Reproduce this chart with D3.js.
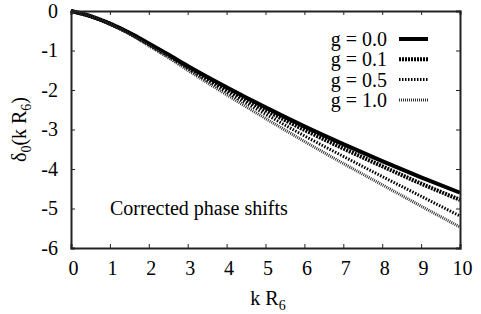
<!DOCTYPE html>
<html>
<head>
<meta charset="utf-8">
<script src="https://cdn.jsdelivr.net/npm/d3@7"></script>
<style>
  body { margin: 0; background: #fff; }
  svg text { font-family: "Liberation Serif", "Times New Roman", serif; }
</style>
</head>
<body>
<svg id="chart"></svg>
<script>
const w = 481;
const h = 314;
const margin = { top: 11, right: 21, bottom: 66, left: 71 };

// values
const kValues = [0, 0.5, 1, 1.5, 2, 2.5, 3, 4, 5, 6, 7, 8, 9, 10];
const g00 = [0, -0.13, -0.32, -0.55, -0.82, -1.1, -1.39, -1.93, -2.44, -2.92, -3.37, -3.8, -4.21, -4.6];
const g01 = [0, -0.13, -0.32, -0.56, -0.84, -1.12, -1.42, -1.98, -2.51, -3.01, -3.48, -3.93, -4.37, -4.78];
const g05 = [0, -0.13, -0.33, -0.57, -0.86, -1.15, -1.46, -2.05, -2.61, -3.16, -3.68, -4.19, -4.69, -5.19];
const g10 = [0, -0.13, -0.33, -0.58, -0.88, -1.18, -1.5, -2.12, -2.72, -3.3, -3.86, -4.4, -4.94, -5.47];
const seriesNames = ["g = 0.0", "g = 0.1", "g = 0.5", "g = 1.0"];
const xTicks = [0, 1, 2, 3, 4, 5, 6, 7, 8, 9, 10];
const yTicks = [0, -1, -2, -3, -4, -5, -6];

const series = [g00, g01, g05, g10];
const styles = [
  { width: 4, dash: null, color: "#000" },
  { width: 4, dash: "2,1", color: "#000" },
  { width: 3, dash: "1.5,1.5", color: "#000" },
  { width: 3, dash: "1,1", color: "#333" }
];

const fs = 20;

const svg = d3.select("#chart").attr("width", w).attr("height", h);

const x = d3.scaleLinear().domain([0, 10]).range([margin.left, w - margin.right]);
const y = d3.scaleLinear().domain([-6, 0]).range([h - margin.bottom, margin.top]);

// curves
const line = d3.line().x((d, i) => x(kValues[i])).y(d => y(d)).curve(d3.curveMonotoneX);

series.forEach((s, i) => {
  svg.append("path")
     .datum(s)
     .attr("d", line)
     .attr("fill", "none")
     .attr("stroke", styles[i].color)
     .attr("stroke-width", styles[i].width)
     .attr("stroke-dasharray", styles[i].dash);
});

// axes with mirrored inward ticks
const tickLen = 4;
svg.append("g")
   .attr("transform", `translate(0, ${y(-6)})`)
   .call(d3.axisBottom(x).tickValues(xTicks).tickSize(-tickLen).tickPadding(13).tickFormat(d3.format("d")))
   .selectAll("text").attr("dx", 2);
svg.append("g")
   .attr("transform", `translate(0, ${y(0)})`)
   .call(d3.axisTop(x).tickValues(xTicks).tickSize(-tickLen).tickFormat(""));
svg.append("g")
   .attr("transform", `translate(${x(0)}, 0)`)
   .call(d3.axisLeft(y).tickValues(yTicks).tickSize(-tickLen).tickPadding(13).tickFormat(d => String(d)));
svg.append("g")
   .attr("transform", `translate(${x(10)}, 0)`)
   .call(d3.axisRight(y).tickValues(yTicks).tickSize(-tickLen).tickFormat(""));

svg.selectAll(".domain").attr("stroke", "#222").attr("stroke-width", 2);
svg.selectAll(".tick line").attr("stroke", "#222").attr("stroke-width", 1);
svg.selectAll(".tick text")
   .attr("fill", "#000")
   .style("font-size", fs + "px")
   .style("font-family", '"Liberation Serif", "Times New Roman", serif');

// axis titles
svg.append("text")
   .attr("x", 268)
   .attr("y", 305)
   .attr("text-anchor", "middle")
   .style("font-size", fs + "px")
   .html('k R<tspan style="font-size:14px" dy="5">6</tspan>');

svg.append("text")
   .attr("transform", `translate(26, ${y(-3)}) rotate(-90)`)
   .attr("text-anchor", "middle")
   .style("font-size", fs + "px")
   .html('δ<tspan style="font-size:14px" dy="5">0</tspan><tspan dy="-5">(k R</tspan><tspan style="font-size:14px" dy="5">6</tspan><tspan dy="-5">)</tspan>');

// annotation
svg.append("text")
   .attr("x", 110)
   .attr("y", 215)
   .style("font-size", fs + "px")
   .text("Corrected phase shifts");

// legend
seriesNames.forEach((name, i) => {
  const ly = 39 + i * 20.3;
  svg.append("text")
     .attr("x", 387)
     .attr("y", ly + 7)
     .attr("text-anchor", "end")
     .style("font-size", fs + "px")
     .text(name);
  svg.append("line")
     .attr("x1", 399).attr("x2", 428)
     .attr("y1", ly).attr("y2", ly)
     .attr("stroke", styles[i].color)
     .attr("stroke-width", styles[i].width)
     .attr("stroke-dasharray", styles[i].dash);
});
</script>
</body>
</html>
